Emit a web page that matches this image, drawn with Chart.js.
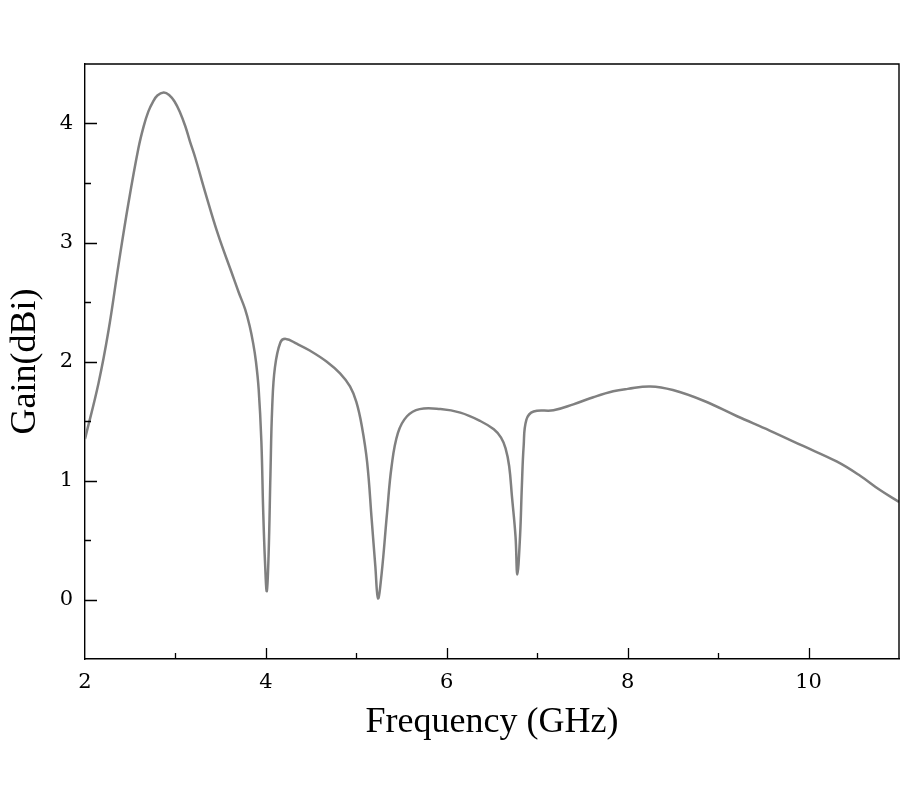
<!DOCTYPE html>
<html>
<head>
<meta charset="utf-8">
<script src="https://cdn.jsdelivr.net/npm/chart.js@4/dist/chart.umd.min.js"></script>
<style>
  html, body { margin: 0; padding: 0; background: #ffffff; }
  #wrap { width: 900px; height: 800px; position: relative; }
</style>
</head>
<body>
<div id="wrap"><canvas id="c" width="900" height="800"></canvas></div>
<script>
// ---- data ----
const frequencyGHz = [
  2.00, 2.15, 2.26, 2.37, 2.48, 2.59, 2.65, 2.70, 2.75, 2.80,
  2.87, 2.93, 2.99, 3.05, 3.11, 3.16, 3.22, 3.33, 3.47, 3.62,
  3.70, 3.77, 3.82, 3.86, 3.89, 3.92, 3.95, 3.97, 3.99, 4.01,
  4.03, 4.05, 4.07, 4.10, 4.16, 4.22, 4.34, 4.49, 4.67, 4.82,
  4.93, 5.00, 5.06, 5.12, 5.17, 5.21, 5.24, 5.28, 5.34, 5.39,
  5.46, 5.56, 5.70, 5.93, 6.15, 6.37, 6.52, 6.60, 6.65, 6.69,
  6.72, 6.76, 6.78, 6.81, 6.83, 6.85, 6.88, 6.96, 7.18, 7.40,
  7.62, 7.84, 8.00, 8.25, 8.50, 8.84, 9.21, 9.57, 9.94, 10.31,
  10.57, 10.79, 11.00
];
const gainDBi = [
  1.35, 1.82, 2.26, 2.81, 3.33, 3.79, 3.98, 4.10, 4.18, 4.235,
  4.26, 4.24, 4.185, 4.095, 3.975, 3.85, 3.71, 3.42, 3.07, 2.75,
  2.58, 2.44, 2.30, 2.15, 2.00, 1.77, 1.33, 0.75, 0.32, 0.07,
  0.38, 1.04, 1.62, 1.95, 2.16, 2.19, 2.15, 2.09, 2.00, 1.90,
  1.79, 1.66, 1.46, 1.15, 0.67, 0.28, 0.01, 0.22, 0.73, 1.12,
  1.40, 1.54, 1.60, 1.60, 1.57, 1.50, 1.43, 1.36, 1.27, 1.12,
  0.87, 0.53, 0.21, 0.53, 0.95, 1.29, 1.51, 1.58, 1.59, 1.64,
  1.70, 1.75, 1.77, 1.79, 1.76, 1.67, 1.54, 1.42, 1.29, 1.16,
  1.04, 0.92, 0.82
];
const xTickValues = [2, 4, 6, 8, 10];
const xMinorTicks = [3, 5, 7, 9];
const yTickValues = [0, 1, 2, 3, 4];
const yMinorTicks = [0.5, 1.5, 2.5, 3.5];
const xTitle = 'Frequency (GHz)';
const yTitle = 'Gain(dBi)';

// ---- inward ticks + frame drawn through the chart's scales ----
const frameAndTicks = {
  id: 'frameAndTicks',
  afterDraw(chart) {
    const ctx = chart.ctx;
    const a = chart.chartArea;
    const xs = chart.scales.x, ys = chart.scales.y;
    ctx.save();
    ctx.strokeStyle = '#000';
    ctx.lineWidth = 1.4;
    ctx.beginPath();
    ctx.moveTo(a.left, a.top); ctx.lineTo(a.right, a.top); ctx.lineTo(a.right, a.bottom);
    ctx.stroke();
    ctx.lineWidth = 1.3;
    ctx.beginPath();
    const tick = (vals, len, horiz) => {
      vals.forEach(v => {
        if (horiz) {
          const px = Math.round(xs.getPixelForValue(v)) + 0.5;
          ctx.moveTo(px, a.bottom); ctx.lineTo(px, a.bottom - len);
        } else {
          const py = Math.round(ys.getPixelForValue(v)) + 0.5;
          ctx.moveTo(a.left, py); ctx.lineTo(a.left + len, py);
        }
      });
    };
    tick(xTickValues.filter(v => v !== 2), 11, true);
    tick(xMinorTicks, 6, true);
    tick(yTickValues, 12, false);
    tick(yMinorTicks, 6, false);
    ctx.stroke();
    ctx.restore();
  }
};

new Chart(document.getElementById('c'), {
  type: 'line',
  data: {
    datasets: [{
      data: frequencyGHz.map((f, i) => ({ x: f, y: gainDBi[i] })),
      borderColor: '#808080',
      borderWidth: 2.5,
      pointRadius: 0,
      fill: false,
      tension: 0.4
    }]
  },
  options: {
    responsive: false,
    devicePixelRatio: 1,
    animation: false,
    layout: { padding: { top: 64, right: 1, left: 0, bottom: 0 } },
    plugins: { legend: { display: false }, tooltip: { enabled: false } },
    scales: {
      x: {
        type: 'linear',
        min: 2, max: 11,
        afterBuildTicks: s => { s.ticks = xTickValues.map(v => ({ value: v })); },
        afterFit: s => { s.height = 141; },
        grid: { display: false, drawTicks: false },
        border: { display: true, color: '#000', width: 1.4 },
        ticks: {
          padding: 11,
          color: '#000',
          font: { family: 'DejaVu Serif', size: 21 },
          maxRotation: 0, autoSkip: false
        },
        title: {
          display: true, text: xTitle, color: '#000',
          font: { family: 'Liberation Serif', size: 36 },
          padding: { top: 0, bottom: 56 }
        }
      },
      y: {
        type: 'linear',
        min: -0.5, max: 4.5,
        afterBuildTicks: s => { s.ticks = yTickValues.map(v => ({ value: v })); },
        afterFit: s => { s.width = 85; },
        grid: { display: false, drawTicks: false },
        border: { display: true, color: '#000', width: 1.4 },
        ticks: {
          padding: 12,
          color: '#000',
          font: { family: 'DejaVu Serif', size: 21 }
        },
        title: {
          display: true, text: yTitle, color: '#000',
          font: { family: 'Liberation Serif', size: 36 },
          padding: { top: 4, bottom: 0 }
        }
      }
    }
  },
  plugins: [frameAndTicks]
});
</script>
</body>
</html>
